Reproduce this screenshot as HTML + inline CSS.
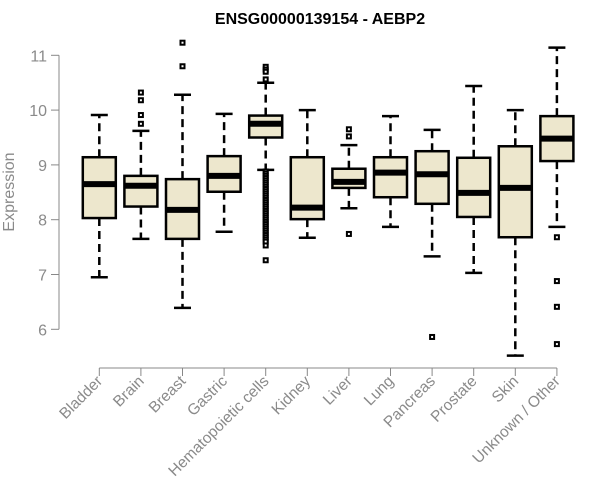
<!DOCTYPE html>
<html><head><meta charset="utf-8"><style>
body{margin:0;background:#fff}
svg{display:block;font-family:"Liberation Sans",Arial,sans-serif}
</style></head><body>
<svg id="chart" width="600" height="500">
<text x="320" y="24" text-anchor="middle" font-weight="bold" font-size="16" fill="#000">ENSG00000139154 - AEBP2</text>
<text transform="translate(14,192) rotate(-90)" text-anchor="middle" font-size="16" fill="#8a8a8a">Expression</text>
<g id="yaxis"></g>
<g id="xaxis"></g>
<g id="boxes"></g>
</svg>
<script>
const categories=["Bladder","Brain","Breast","Gastric","Hematopoietic cells","Kidney","Liver","Lung","Pancreas","Prostate","Skin","Unknown / Other"];
const whiskerLow=[6.95,7.65,6.39,7.78,8.91,7.67,8.21,7.87,7.33,7.03,5.52,7.87];
const q1=[8.03,8.24,7.65,8.51,9.50,8.01,8.58,8.41,8.29,8.05,7.68,9.07];
const medians=[8.65,8.62,8.18,8.80,9.75,8.22,8.69,8.86,8.83,8.49,8.58,9.48];
const q3=[9.14,8.80,8.74,9.16,9.90,9.14,8.93,9.14,9.25,9.13,9.34,9.89];
const whiskerHigh=[9.91,9.62,10.28,9.93,10.50,10.00,9.36,9.89,9.64,10.44,10.00,11.14];
const outliers=[[],[10.32,10.18,9.91,9.75],[11.23,10.80],[],
[10.79,10.74,10.70,10.56,8.88,8.84,8.80,8.76,8.72,8.68,8.64,8.60,8.56,8.52,8.48,8.44,8.40,8.36,8.32,8.28,8.24,8.20,8.16,8.12,8.08,8.04,8.00,7.96,7.92,7.88,7.84,7.80,7.76,7.72,7.68,7.64,7.60,7.53,7.26],
[],[9.65,9.52,7.74],[],[5.86],[],[],[7.68,6.88,6.41,5.73]];
const yTicks=[6,7,8,9,10,11];

const NS="http://www.w3.org/2000/svg";
const y=v=>329.3-(v-6)*54.8;
const x=i=>99.3+i*41.6;
function mk(tag,attrs,parent){const e=document.createElementNS(NS,tag);for(const k in attrs)e.setAttribute(k,attrs[k]);parent.appendChild(e);return e;}
const ya=document.getElementById('yaxis'),xa=document.getElementById('xaxis'),bx=document.getElementById('boxes');
let l=mk('line',{x1:59,x2:59,y1:y(yTicks[yTicks.length-1]),y2:y(yTicks[0]),stroke:'#888','stroke-width':1},ya);


yTicks.forEach(t=>{
 const tk=mk('line',{x1:51,x2:59,y1:y(t),y2:y(t),stroke:'#888'},ya);
 
 
 const tx=mk('text',{x:47,y:y(t)+6,'text-anchor':'end','font-size':16,fill:'#8a8a8a'},ya);
 tx.textContent=t;
 
 
});
l=mk('line',{x1:x(0),x2:x(categories.length-1),y1:368,y2:368,stroke:'#888'},xa);


categories.forEach((c,i)=>{
 const cx=x(i);
 const tk=mk('line',{x1:cx,x2:cx,y1:368,y2:376,stroke:'#888'},xa);
 
 
 const tx=mk('text',{transform:`translate(${cx+4},382) rotate(-45)`,'text-anchor':'end','font-size':15.5,fill:'#8a8a8a'},xa);
 tx.textContent=c;
 
 
 const g=mk('g',{},bx);
 
 
 mk('line',{x1:cx,x2:cx,y1:y(q3[i]),y2:y(whiskerHigh[i]),stroke:'#000','stroke-width':2.5,'stroke-dasharray':'8,5'},g);
 mk('line',{x1:cx,x2:cx,y1:y(q1[i]),y2:y(whiskerLow[i]),stroke:'#000','stroke-width':2.5,'stroke-dasharray':'8,5'},g);
 mk('line',{x1:cx-8.5,x2:cx+8.5,y1:y(whiskerHigh[i]),y2:y(whiskerHigh[i]),stroke:'#000','stroke-width':2.5},g);
 mk('line',{x1:cx-8.5,x2:cx+8.5,y1:y(whiskerLow[i]),y2:y(whiskerLow[i]),stroke:'#000','stroke-width':2.5},g);
 mk('rect',{x:cx-16.5,y:y(q3[i]),width:33,height:y(q1[i])-y(q3[i]),fill:'#ede7cd',stroke:'#000','stroke-width':2.5},g);
 mk('line',{x1:cx-16.5,x2:cx+16.5,y1:y(medians[i]),y2:y(medians[i]),stroke:'#000','stroke-width':6},g);
 outliers[i].forEach(v=>{
  const p=mk('rect',{x:cx-2,y:y(v)-2,width:4,height:4,fill:'#fff',stroke:'#000','stroke-width':2},g);
  
  
 });
});
</script>
</body></html>
